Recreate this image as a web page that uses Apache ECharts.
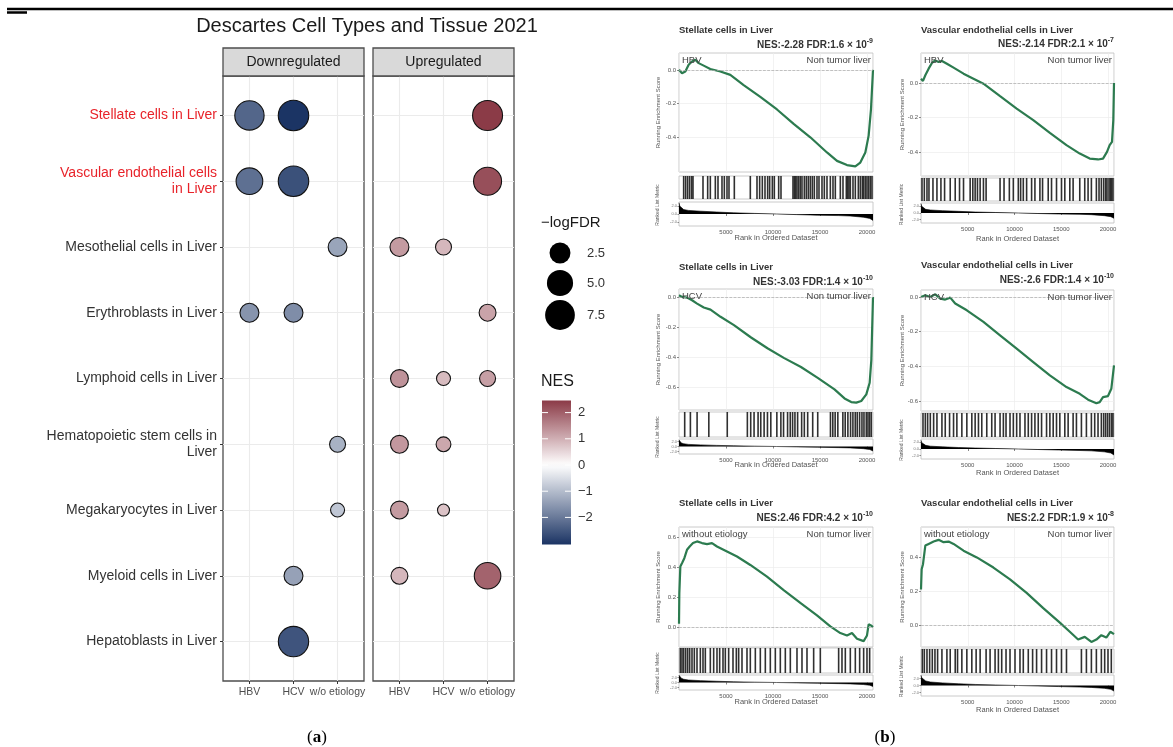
<!DOCTYPE html>
<html><head><meta charset="utf-8">
<script src="https://cdn.jsdelivr.net/npm/echarts@6/dist/echarts.min.js"></script>
<style>html,body{margin:0;padding:0;background:#fff}#c{width:1173px;height:747px}</style>
</head><body><div id="c"></div>
<script>
// ---------------- Panel (a) data ----------------
const chartTitle = 'Descartes Cell Types and Tissue 2021';
const facets = ['Downregulated', 'Upregulated'];
const cellTypes = ['Stellate cells in Liver', 'Vascular endothelial cells\nin Liver', 'Mesothelial cells in Liver',
  'Erythroblasts in Liver', 'Lymphoid cells in Liver', 'Hematopoietic stem cells in\nLiver',
  'Megakaryocytes in Liver', 'Myeloid cells in Liver', 'Hepatoblasts in Liver'];
const highlightedRows = [0, 1];
const etiologies = ['HBV', 'HCV', 'w/o etiology'];
// [etiology index, cell type index, -logFDR, NES]
const downPoints = [
  [0, 0, 8.8, -2.28], [1, 0, 9.85, -3.03],
  [0, 1, 6.68, -2.14], [1, 1, 9.85, -2.6],
  [2, 2, 2.46, -1.35],
  [0, 3, 2.5, -1.6], [1, 3, 2.5, -1.7],
  [2, 5, 1.7, -1.15],
  [2, 6, 1.4, -0.85],
  [1, 7, 2.5, -1.4],
  [1, 8, 9.7, -2.55]
];
const upPoints = [
  [2, 0, 9.38, 2.46], [2, 1, 7.72, 2.2],
  [0, 2, 2.5, 1.25], [1, 2, 1.7, 0.9],
  [2, 3, 1.9, 1.15],
  [0, 4, 2.15, 1.35], [1, 4, 1.4, 0.85], [2, 4, 1.7, 1.2],
  [0, 5, 2.15, 1.3], [1, 5, 1.5, 1.1],
  [0, 6, 2.15, 1.25], [1, 6, 1.3, 0.75],
  [0, 7, 1.9, 0.9], [2, 7, 6.6, 1.95]
];
const sizeLegendValues = [2.5, 5.0, 7.5];
const nesTickValues = [2, 1, 0, -1, -2];
const nesLimits = [-3.03, 2.46];

// ---------------- Panel (b) data ----------------
const gseaTitles = ['Stellate cells in Liver', 'Vascular endothelial cells in Liver',
  'Stellate cells in Liver', 'Vascular endothelial cells in Liver',
  'Stellate cells in Liver', 'Vascular endothelial cells in Liver'];
const gseaNES = ['-2.28', '-2.14', '-3.03', '-2.6', '2.46', '2.2'];
const gseaFDR = [['1.6', '-9'], ['2.1', '-7'], ['1.4', '-10'], ['1.4', '-10'], ['4.2', '-10'], ['1.9', '-8']];
const gseaGroups = ['HBV', 'HBV', 'HCV', 'HCV', 'without etiology', 'without etiology'];
const gseaReference = 'Non tumor liver';
const rankTicks = [5000, 10000, 15000, 20000];
const rankCount = 20640;

const esStellateHBV = [[0,0.0],[319,-0.02],[674,-0.01],[1028,0.03],[1383,0.05],[1738,0.06],[2092,0.04],[2624,0.025],[3333,0.005],[4397,-0.01],[5461,-0.03],[6879,-0.09],[8652,-0.16],[10425,-0.235],[12198,-0.32],[13971,-0.40],[15744,-0.49],[16808,-0.54],[17872,-0.565],[18759,-0.573],[19291,-0.55],[19823,-0.49],[20177,-0.39],[20425,-0.235],[20640,0.0]];
const esVascularHBV = [[0,0.025],[213,0.012],[462,0.045],[817,0.083],[1172,0.116],[1527,0.131],[1883,0.122],[2238,0.128],[2771,0.112],[3481,0.089],[4547,0.054],[5612,0.025],[6678,-0.004],[8454,-0.077],[10230,-0.149],[12006,-0.216],[13782,-0.29],[15558,-0.361],[16979,-0.41],[18044,-0.439],[18932,-0.444],[19465,-0.439],[19891,-0.40],[20175,-0.361],[20424,-0.342],[20566,-0.216],[20640,0.0]];
const esStellateHCV = [[0,0.011],[321,0.0],[856,-0.004],[1390,-0.022],[1925,-0.044],[2638,-0.07],[3351,-0.084],[4421,-0.132],[5847,-0.187],[7629,-0.268],[9412,-0.341],[11195,-0.407],[12977,-0.466],[14759,-0.538],[16542,-0.615],[17611,-0.675],[18324,-0.699],[18859,-0.703],[19394,-0.692],[19928,-0.648],[20285,-0.571],[20463,-0.418],[20640,0.0]];
const esVascularHCV = [[0,0.0],[462,0.01],[995,0.0],[1527,0.015],[2060,-0.01],[2593,-0.015],[3126,-0.004],[3659,-0.038],[4902,-0.077],[6678,-0.144],[8454,-0.221],[10230,-0.298],[12006,-0.375],[13782,-0.452],[15558,-0.519],[16979,-0.558],[17867,-0.592],[18755,-0.612],[19110,-0.606],[19465,-0.577],[19998,-0.571],[20353,-0.529],[20640,-0.394]];
const esStellateWO = [[0,0.022],[35,0.224],[142,0.403],[355,0.43],[567,0.459],[851,0.515],[1135,0.537],[1489,0.56],[1915,0.571],[2447,0.56],[2979,0.553],[3510,0.56],[4042,0.537],[5106,0.504],[6170,0.47],[7588,0.414],[9361,0.336],[11134,0.246],[12907,0.161],[14681,0.078],[16099,0.004],[17163,-0.04],[17872,-0.056],[18404,-0.04],[18936,-0.078],[19645,-0.094],[20000,-0.056],[20177,0.018],[20425,0.011],[20640,0.0]];
const esVascularWO = [[0,0.21],[71,0.33],[213,0.36],[462,0.47],[817,0.48],[1350,0.494],[1883,0.504],[2415,0.49],[2948,0.494],[3481,0.48],[4547,0.44],[5968,0.40],[7743,0.34],[9519,0.27],[11295,0.19],[13072,0.10],[14847,0.014],[15913,-0.04],[16801,-0.086],[17511,-0.07],[18222,-0.10],[18755,-0.086],[19288,-0.06],[19820,-0.074],[20246,-0.04],[20640,-0.054]];

const hitsStellateHBV = [496,709,922,1135,1348,1489,2553,3050,3333,3865,4149,4574,4823,5106,5319,5886,7588,8298,8581,8865,9149,9432,9645,9929,10142,10603,10851,12127,12269,12411,12553,12730,12907,13085,13333,13546,13759,13971,14184,14397,14681,14894,15213,15461,15745,16099,16383,16631,17163,17447,17802,17944,18085,18227,18511,18759,19078,19291,19504,19645,19823,20000,20177,20355,20532];
const hitsVascularHBV = [107,355,639,852,1279,1705,2131,2522,3126,3659,4120,4547,5257,5541,5790,6038,6323,6678,6962,8454,8880,9448,9875,10407,10656,10940,11295,11828,12183,12716,13000,13604,13959,14492,15025,15380,15913,16268,16979,17511,17867,18222,18755,19039,19288,19536,19749,19891,20104,20246,20388,20530];
const hitsStellateHCV = [606,1212,1925,3173,5134,7273,7629,7986,8413,8699,9055,9412,9768,10410,10838,11123,11551,11836,12085,12335,12620,13048,13333,13690,14224,14759,16114,16363,16613,16898,17433,17682,17967,18253,18502,18752,18966,19215,19465,19679,19928,20106,20285,20463];
const hitsVascularHCV = [213,462,710,995,1350,1705,2238,2593,3055,3481,3836,4369,4902,5435,5790,6145,6500,7033,7566,7921,8454,8809,9093,9519,9875,10230,10585,11118,11473,11828,12183,12539,12894,13427,13782,14137,14492,14847,15380,15735,16268,16623,17156,17689,18222,18577,18932,19288,19536,19749,19962,20175,20388,20530];
const hitsStellateWO = [142,319,496,709,922,1135,1383,1631,1915,2269,2553,2801,3333,3688,4042,4326,4681,4929,5284,5745,6099,6347,6702,7234,7588,8121,8652,9184,9716,10248,10780,11312,11844,12553,13085,13617,14326,15035,16985,17340,17695,18227,18759,19220,19645,20000,20284];
const hitsVascularWO = [142,355,639,924,1208,1492,1776,2238,2771,3126,3659,3907,4369,4902,5435,5896,6323,6962,7388,7921,8276,8631,9093,9519,10052,10585,10940,11473,11935,12361,12894,13427,13959,14492,15025,15558,17156,17689,18222,18755,19288,19643,19998,20352];

const metricHBV = [[0,2.8],[80,2.0],[250,1.5],[500,1.1],[1000,0.9],[2300,0.7],[4000,0.5],[5800,0.3],[8000,0.15],[10400,0],[12500,-0.15],[14700,-0.3],[17000,-0.4],[18200,-0.5],[19600,-0.8],[20300,-1.1],[20640,-1.6]];
const metricHCV = [[0,2.6],[80,1.9],[250,1.4],[500,1.1],[1000,0.85],[2300,0.65],[4000,0.45],[5800,0.3],[8000,0.15],[10400,0],[12500,-0.15],[14700,-0.3],[17000,-0.45],[18200,-0.55],[19600,-0.85],[20300,-1.2],[20640,-1.8]];
const metricWO = [[0,2.9],[80,2.2],[250,1.7],[500,1.3],[1000,1.0],[2300,0.75],[4000,0.5],[5800,0.3],[8000,0.15],[10400,0],[12500,-0.15],[14700,-0.3],[17000,-0.45],[18200,-0.55],[19600,-0.8],[20300,-1.1],[20640,-1.6]];

const gseaES = [esStellateHBV, esVascularHBV, esStellateHCV, esVascularHCV, esStellateWO, esVascularWO];
const gseaHits = [hitsStellateHBV, hitsVascularHBV, hitsStellateHCV, hitsVascularHCV, hitsStellateWO, hitsVascularWO];
const gseaMetric = [metricHBV, metricHBV, metricHCV, metricHCV, metricWO, metricWO];

// ---------------- Layout (positions / axis ranges) ----------------
const L = [
  {x:679,w:194,tY:30,sY:44,mT:53,mB:172,bT:176,bB:199,rT:202,rB:226,kY:231,xtY:238,ytX:658,yr:[-0.606,0.10],yt:[-0.4,-0.2,0]},
  {x:921,w:193,tY:30,sY:43,mT:53,mB:176,bT:178,bB:201,rT:203,rB:223,kY:230,xtY:239,ytX:902,yr:[-0.54,0.174],yt:[-0.4,-0.2,0]},
  {x:679,w:194,tY:267,sY:281,mT:289,mB:410,bT:412,bB:437,rT:439,rB:454,kY:458,xtY:465,ytX:658,yr:[-0.752,0.053],yt:[-0.6,-0.4,-0.2,0]},
  {x:921,w:193,tY:265,sY:279,mT:290,mB:411,bT:413,bB:437,rT:439,rB:459,kY:465,xtY:473,ytX:902,yr:[-0.657,0.04],yt:[-0.6,-0.4,-0.2,0]},
  {x:679,w:194,tY:503,sY:517,mT:527,mB:647,bT:648,bB:673,rT:675,rB:690,kY:694,xtY:702,ytX:658,yr:[-0.133,0.667],yt:[0,0.2,0.4,0.6]},
  {x:921,w:193,tY:503,sY:517,mT:527,mB:647,bT:649,bB:673,rT:675,rB:696,kY:702,xtY:710,ytX:902,yr:[-0.13,0.58],yt:[0,0.2,0.4]}
];

const FONT = 'Liberation Sans, Arial, sans-serif';
function sizeOf(v) { return 12 + 18.5 * Math.sqrt(Math.max(0, v - 1.3) / 8.55); }
function mix(a, b, t) { return 'rgb(' + a.map((x, i) => Math.round(x + (b[i] - x) * t)).join(',') + ')'; }
const LOW = [27, 52, 100], HIGH = [112, 13, 28], WHITE = [255, 255, 255];
function nesColor(n) {
  const t = Math.min(1, Math.abs(n) / 3.03);
  return n < 0 ? mix(WHITE, LOW, t) : mix(WHITE, HIGH, t);
}

const grid = [], xAxis = [], yAxis = [], series = [], graphic = [];

// ---- dot plot grids
const dotLeft = [223, 373];
dotLeft.forEach((lx, i) => {
  grid.push({left: lx, top: 76, width: 141, height: 605, show: true, borderColor: '#4d4d4d', borderWidth: 1.3, backgroundColor: '#fff'});
  xAxis.push({gridIndex: i, type: 'value', min: 0.4, max: 3.6,
    axisLine: {show: false},
    axisTick: {customValues: [1, 2, 3], length: 3, lineStyle: {color: '#333'}},
    axisLabel: {customValues: [1, 2, 3], formatter: v => etiologies[Math.round(v) - 1], fontSize: 10.5, color: '#4d4d4d', margin: 6, fontFamily: FONT},
    splitLine: {lineStyle: {color: '#ebebeb', width: 1.1}}});
  yAxis.push({gridIndex: i, type: 'value', min: 0.4, max: 9.6, inverse: true,
    axisLine: {show: false},
    axisTick: {show: i === 0, customValues: [1,2,3,4,5,6,7,8,9], length: 3, lineStyle: {color: '#333'}},
    axisLabel: {show: i === 0, customValues: [1,2,3,4,5,6,7,8,9], formatter: v => cellTypes[Math.round(v) - 1],
      color: v => highlightedRows.includes(Math.round(Number(v)) - 1) ? '#e8232a' : '#333',
      fontSize: 14, lineHeight: 16, margin: 6, fontFamily: FONT},
    splitLine: {lineStyle: {color: '#ebebeb', width: 1.1}}});
  const pts = i === 0 ? downPoints : upPoints;
  series.push({type: 'scatter', xAxisIndex: i, yAxisIndex: i, z: 5,
    data: pts.map(p => [p[0] + 1, p[1] + 1, p[2], p[3]]),
    symbolSize: v => sizeOf(v[2]),
    itemStyle: {color: p => nesColor(p.value[3]), borderColor: '#111', borderWidth: 1.1, opacity: 1}});
  graphic.push({type: 'rect', shape: {x: lx, y: 48, width: 141, height: 28}, style: {fill: '#d9d9d9', stroke: '#4d4d4d', lineWidth: 1.3}, z: 10});
  graphic.push({type: 'text', x: lx + 70.5, y: 62, style: {text: facets[i], fontSize: 14, fill: '#1a1a1a', align: 'center', verticalAlign: 'middle', fontFamily: FONT}, z: 11});
});

graphic.push({type: 'text', x: 367, y: 26, style: {text: chartTitle, fontSize: 20, fill: '#1a1a1a', align: 'center', verticalAlign: 'middle', fontFamily: FONT}});

// size legend
graphic.push({type: 'text', x: 541, y: 223, style: {text: '\u2212logFDR', fontSize: 15, fill: '#1a1a1a', verticalAlign: 'middle', fontFamily: FONT}});
const sizeLegY = [253, 283, 315];
sizeLegendValues.forEach((v, i) => {
  graphic.push({type: 'circle', shape: {cx: 560, cy: sizeLegY[i], r: (sizeOf(v) + 2) / 2}, style: {fill: '#000'}});
  graphic.push({type: 'text', x: 587, y: sizeLegY[i], style: {text: v.toFixed(1), fontSize: 13, fill: '#333', verticalAlign: 'middle', fontFamily: FONT}});
});

// colour bar
const cbX = 542, cbW = 29, cbZero = 465, cbUnit = 26.2;
const cbTop = cbZero - nesLimits[1] * cbUnit, cbBot = cbZero - nesLimits[0] * cbUnit;
const stops = [];
for (let k = 0; k <= 30; k++) {
  const val = nesLimits[1] - (nesLimits[1] - nesLimits[0]) * k / 30;
  stops.push({offset: k / 30, color: nesColor(val)});
}
graphic.push({type: 'text', x: 541, y: 382, style: {text: 'NES', fontSize: 16, fill: '#1a1a1a', verticalAlign: 'middle', fontFamily: FONT}});
graphic.push({type: 'rect', shape: {x: cbX, y: cbTop, width: cbW, height: cbBot - cbTop},
  style: {fill: new echarts.graphic.LinearGradient(0, 0, 0, 1, stops)}});
nesTickValues.forEach(t => {
  const y = cbZero - t * cbUnit;
  graphic.push({type: 'line', shape: {x1: cbX, y1: y, x2: cbX + 6, y2: y}, style: {stroke: '#fff', lineWidth: 1}});
  graphic.push({type: 'line', shape: {x1: cbX + cbW - 6, y1: y, x2: cbX + cbW, y2: y}, style: {stroke: '#fff', lineWidth: 1}});
  graphic.push({type: 'text', x: 578, y: y, style: {text: t < 0 ? '\u2212' + Math.abs(t) : String(t), fontSize: 13, fill: '#333', verticalAlign: 'middle', fontFamily: FONT}});
});

// ---- GSEA panels
gseaTitles.forEach((title, p) => {
  const l = L[p];
  const gi = grid.length;
  // main
  grid.push({left: l.x, top: l.mT, width: l.w, height: l.mB - l.mT, show: true, borderColor: '#bdbdbd', borderWidth: 0.8});
  xAxis.push({gridIndex: gi, type: 'value', min: 0, max: rankCount, interval: 5000,
    axisLine: {show: false}, axisTick: {show: false}, axisLabel: {show: false},
    splitLine: {lineStyle: {color: '#ececec', width: 0.7}}});
  yAxis.push({gridIndex: gi, type: 'value', min: l.yr[0], max: l.yr[1], axisLine: {show: false},
    axisTick: {customValues: l.yt, length: 2, lineStyle: {color: '#888'}},
    axisLabel: {customValues: l.yt, formatter: v => v.toFixed(1), fontSize: 6, color: '#555', margin: 3, fontFamily: FONT},
    splitLine: {lineStyle: {color: '#ececec', width: 0.7}}});
  series.push({type: 'line', xAxisIndex: gi, yAxisIndex: gi, data: gseaES[p], showSymbol: false, smooth: false,
    lineStyle: {color: '#2c7b4f', width: 2.2}, z: 4,
    markLine: {silent: true, symbol: 'none', label: {show: false}, data: [{yAxis: 0}],
      lineStyle: {type: 'dashed', color: '#aaa', width: 0.7}}});
  // barcode
  grid.push({left: l.x, top: l.bT, width: l.w, height: l.bB - l.bT, show: true, borderColor: '#bdbdbd', borderWidth: 0.8});
  xAxis.push({gridIndex: gi + 1, type: 'value', min: 0, max: rankCount, show: false});
  yAxis.push({gridIndex: gi + 1, type: 'value', min: 0, max: 1, show: false});
  series.push({type: 'custom', xAxisIndex: gi + 1, yAxisIndex: gi + 1, silent: true,
    data: gseaHits[p].map(h => [h, 1]), encode: {x: 0, y: 1},
    renderItem: (params, api) => {
      const a = api.coord([api.value(0), 0]);
      const b = api.coord([api.value(0), 1]);
      return {type: 'rect', shape: {x: a[0] - 0.8, y: b[1], width: 1.6, height: a[1] - b[1]}, style: {fill: '#1a1a1a', opacity: 0.9}};
    }});
  // ranked list
  grid.push({left: l.x, top: l.rT, width: l.w, height: l.rB - l.rT, show: true, borderColor: '#bdbdbd', borderWidth: 0.8});
  xAxis.push({gridIndex: gi + 2, type: 'value', min: 0, max: rankCount, axisLine: {show: false},
    axisTick: {customValues: rankTicks, length: 2, lineStyle: {color: '#888'}},
    axisLabel: {customValues: rankTicks, formatter: v => String(v), fontSize: 6, color: '#555', margin: 3, fontFamily: FONT},
    splitLine: {show: false}});
  yAxis.push({gridIndex: gi + 2, type: 'value', min: -3, max: 3, axisLine: {show: false},
    axisTick: {customValues: [-2, 0, 2], length: 1.5, lineStyle: {color: '#888'}},
    axisLabel: {customValues: [-2, 0, 2], formatter: v => v.toFixed(1), fontSize: 4, color: '#777', margin: 2, fontFamily: FONT},
    splitLine: {show: false}});
  series.push({type: 'line', xAxisIndex: gi + 2, yAxisIndex: gi + 2, data: gseaMetric[p], showSymbol: false,
    lineStyle: {color: '#000', width: 0.6}, areaStyle: {color: '#000', opacity: 1}});

  // texts
  graphic.push({type: 'text', x: l.x, y: l.tY, style: {text: title, fontSize: 9.5, fontWeight: 'bold', fill: '#333', verticalAlign: 'middle', fontFamily: FONT}});
  graphic.push({type: 'text', x: l.x + l.w, y: l.sY, style: {
    text: '{b|NES:' + gseaNES[p] + ' FDR:' + gseaFDR[p][0] + ' \u00d7 10}{s|' + gseaFDR[p][1] + '}',
    align: 'right', verticalAlign: 'middle',
    rich: {b: {fontSize: 10, fontWeight: 'bold', fill: '#333', fontFamily: FONT, lineHeight: 13, verticalAlign: 'bottom'},
           s: {fontSize: 7, fontWeight: 'bold', fill: '#333', fontFamily: FONT, lineHeight: 13, verticalAlign: 'top'}}}});
  graphic.push({type: 'text', x: l.x + 3, y: l.mT + 7, style: {text: gseaGroups[p], fontSize: 9.5, fill: '#444', verticalAlign: 'middle', fontFamily: FONT}, z: 20});
  graphic.push({type: 'text', x: l.x + l.w - 2, y: l.mT + 7, style: {text: gseaReference, fontSize: 9.5, fill: '#444', align: 'right', verticalAlign: 'middle', fontFamily: FONT}, z: 20});
  graphic.push({type: 'text', x: l.ytX, y: (l.mT + l.mB) / 2, rotation: Math.PI / 2, style: {text: 'Running Enrichment Score', fontSize: 6, fill: '#555', align: 'center', verticalAlign: 'middle', fontFamily: FONT}});
  graphic.push({type: 'text', x: l.ytX, y: (l.bT + l.rB) / 2 + 4, rotation: Math.PI / 2, style: {text: 'Ranked List Metric', fontSize: 5, fill: '#555', align: 'center', verticalAlign: 'middle', fontFamily: FONT}});
  graphic.push({type: 'text', x: l.x + l.w / 2, y: l.xtY, style: {text: 'Rank in Ordered Dataset', fontSize: 7.5, fill: '#555', align: 'center', verticalAlign: 'middle', fontFamily: FONT}});
});

// frame lines and panel letters
graphic.push({type: 'line', shape: {x1: 7, y1: 9, x2: 1173, y2: 9}, style: {stroke: '#000', lineWidth: 2.5}});
graphic.push({type: 'line', shape: {x1: 7, y1: 12.5, x2: 27, y2: 12.5}, style: {stroke: '#000', lineWidth: 2.5}});
[['a', 317], ['b', 885]].forEach(([c, x]) => {
  graphic.push({type: 'text', x: x, y: 738, style: {text: '{n|(}{b|' + c + '}{n|)}', align: 'center', verticalAlign: 'middle',
    rich: {n: {fontSize: 17, fontFamily: 'Liberation Serif, serif', fill: '#000'}, b: {fontSize: 17, fontWeight: 'bold', fontFamily: 'Liberation Serif, serif', fill: '#000'}}}});
});

const chart = echarts.init(document.getElementById('c'), null, {renderer: 'canvas'});
chart.setOption({animation: false, backgroundColor: '#fff', textStyle: {fontFamily: FONT},
  grid, xAxis, yAxis, series, graphic});
</script>
</body></html>
